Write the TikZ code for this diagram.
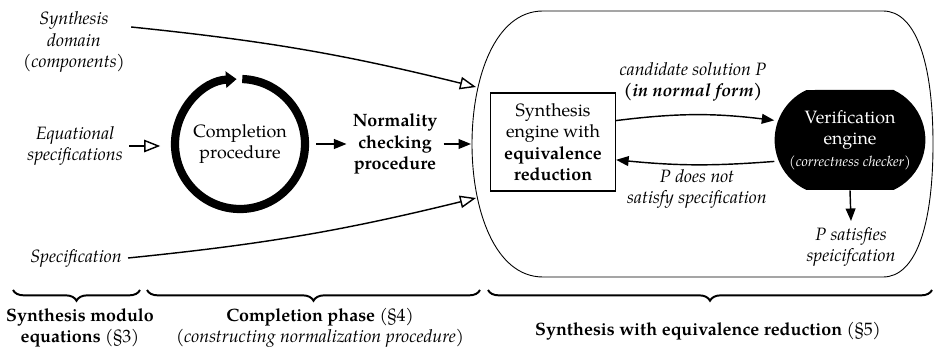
\documentclass[tikz,border=0pt]{standalone}
\usepackage{fontspec}
\setmainfont{texgyrepagella}[Extension=.otf, UprightFont=*-regular, BoldFont=*-bold,
  ItalicFont=*-italic, BoldItalicFont=*-bolditalic]
\usetikzlibrary{arrows.meta, decorations.pathreplacing, shapes.misc}

\tikzset{
  inlabel/.style={font=\itshape, align=center},
  feed/.style={line width=0.8pt, -{Triangle[open, length=9pt, width=7pt]}},
  flow/.style={line width=0.8pt, -{Triangle[length=7pt, width=5.5pt]}},
  phase/.style={decorate, decoration={brace, mirror, amplitude=6pt}, line width=1.1pt},
}

\begin{document}
\begin{tikzpicture}[x=0.56pt, y=-0.56pt]
\useasboundingbox (0,0) rectangle (935,347);

% Inputs on the left
\node[inlabel] (domain) at (74,42) {Synthesis\\domain\\(components)};
\node[inlabel] (eqspec) at (75,146) {Equational\\specifications};
\node[inlabel] (spec) at (76,258) {Specification};

% Completion loop
\node[circle, minimum size=77pt, align=center] (compl) at (240,144) {Completion\\procedure};
\draw[line width=4.6pt, -{Triangle[length=6pt, width=9pt]}]
  (240,144) ++(88:36.4pt) arc[start angle=88, end angle=-267, radius=36.4pt];

% Normality check
\node[font=\bfseries, align=center] (norm) at (395,144) {Normality\\checking\\procedure};

% Big synthesis region
\draw[line width=0.5pt] (543,11) -- (883,11)
  .. controls (915,11) and (933,60) .. (933,144)
  .. controls (933,228) and (915,277) .. (883,277) -- (543,277)
  .. controls (495,277) and (472,210) .. (472,144)
  .. controls (472,78) and (495,11) .. (543,11) -- cycle;
\coordinate (in1) at (476,87);
\coordinate (in2) at (471,144);
\coordinate (in3) at (476,198);

% Engines
\node[draw, line width=0.7pt, minimum width=70pt, minimum height=55pt, align=center]
  (engine) at (553,142) {Synthesis\\engine with\\\textbf{equivalence}\\\textbf{reduction}};
\node[rounded rectangle, rounded rectangle arc length=130, fill=black, text=white,
  minimum width=84pt, minimum height=56pt, align=center]
  (verif) at (850,140) {Verification\\engine\\{\footnotesize\itshape (correctness checker)}};

% Loop labels
\node[inlabel] (cand) at (693,82) {candidate solution P\\\textbf{(in normal form)}};
\node[inlabel] (notsat) at (697,189) {P does not\\satisfy specification};
\node[inlabel] (sat) at (851,247) {P satisfies\\speicifcation};

% Arrows
\draw[feed] ([yshift=8.4pt]domain.east) to[bend left=4] (in1);
\draw[feed, shorten >=6pt] (eqspec.east) -- (eqspec.east -| compl.west);
\draw[feed] (spec.east) to[bend right=4] (in3);
\draw[flow, shorten <=4pt] (compl.east) -- (norm.west);
\draw[flow] (norm.east) -- (in2);
\draw[flow] ([yshift=12pt]engine.east) to[bend left=7] ([yshift=11pt]verif.west);
\draw[flow] ([yshift=-12pt]verif.west) to[bend left=5] ([yshift=-10pt]engine.east);
\draw[flow] (verif.south) -- (sat.north);

% Phases
\draw[phase] (13,290) -- (140,290);
\draw[phase] (147,290) -- (480,290);
\draw[phase] (488,290) -- (932,290);
\node[align=center] (ph1) at (80,328) {\textbf{Synthesis modulo}\\\textbf{equations} (\S3)};
\node[align=center] (ph2) at (320,328) {\textbf{Completion phase} (\S4)\\\textit{(constructing normalization procedure)}};
\node (ph3) at (708,331) {\textbf{Synthesis with equivalence reduction} (\S5)};

\end{tikzpicture}
\end{document}
